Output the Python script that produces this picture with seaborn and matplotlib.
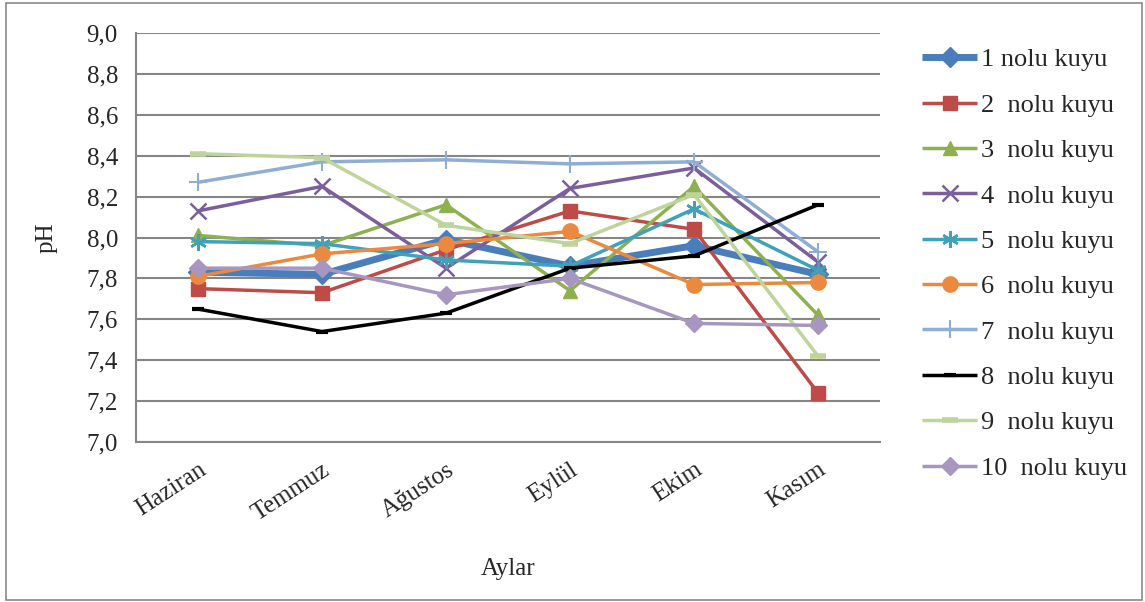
import numpy as np
import pandas as pd
import matplotlib
matplotlib.use("Agg")
import matplotlib.pyplot as plt
from matplotlib.patches import Rectangle
from matplotlib.ticker import FuncFormatter
import seaborn as sns

months = ["Haziran", "Temmuz", "Ağustos", "Eylül", "Ekim", "Kasım"]
well_labels = ["1 nolu kuyu", "2  nolu kuyu", "3  nolu kuyu", "4  nolu kuyu",
               "5  nolu kuyu", "6  nolu kuyu", "7  nolu kuyu", "8  nolu kuyu",
               "9  nolu kuyu", "10  nolu kuyu"]

ph_well1 = [7.83, 7.82, 7.99, 7.86, 7.96, 7.82]
ph_well2 = [7.75, 7.73, 7.94, 8.13, 8.04, 7.24]
ph_well3 = [8.01, 7.96, 8.16, 7.74, 8.25, 7.62]
ph_well4 = [8.13, 8.25, 7.85, 8.24, 8.34, 7.88]
ph_well5 = [7.98, 7.97, 7.89, 7.86, 8.14, 7.84]
ph_well6 = [7.81, 7.92, 7.97, 8.03, 7.77, 7.78]
ph_well7 = [8.27, 8.37, 8.38, 8.36, 8.37, 7.93]
ph_well8 = [7.65, 7.54, 7.63, 7.85, 7.91, 8.16]
ph_well9 = [8.41, 8.39, 8.06, 7.97, 8.21, 7.42]
ph_well10 = [7.85, 7.85, 7.72, 7.80, 7.58, 7.57]

y_ticks = [7.0, 7.2, 7.4, 7.6, 7.8, 8.0, 8.2, 8.4, 8.6, 8.8, 9.0]

series = [ph_well1, ph_well2, ph_well3, ph_well4, ph_well5,
          ph_well6, ph_well7, ph_well8, ph_well9, ph_well10]

# line colour, marker, line width, marker size, marker edge width
styles = [
    ("#4A7EBB", "D", 5.0, 10, 1.0),
    ("#BE4B48", "s", 2.5, 10, 1.0),
    ("#8EB04F", "^", 2.5, 10, 1.0),
    ("#7B5F9C", "x", 2.5, 11, 1.8),
    ("#3FA2BA", (6, 2, 0), 2.5, 12, 1.8),
    ("#EB8A3E", "o", 2.5, 11, 1.0),
    ("#8FAED6", "+", 2.5, 13, 1.5),
    ("#000000", "_", 2.5, 9, 3.0),
    ("#BED49A", "_", 2.5, 11, 4.0),
    ("#A796BF", "D", 2.5, 9, 1.0),
]

sns.set_style("white")
plt.rcParams["font.family"] = ["Liberation Serif", "DejaVu Serif"]

fig = plt.figure(figsize=(11.45, 6.02), dpi=100)
ax = fig.add_axes([136 / 1145, 1 - 442 / 602, 744 / 1145, 409 / 602])

x_pos = np.arange(len(months))
for values, label, (color, marker, lw, ms, mew) in zip(series, well_labels, styles):
    df = pd.DataFrame({"ay": x_pos, "ph": values})
    sns.lineplot(data=df, x="ay", y="ph", ax=ax, color=color, marker=marker,
                 linewidth=lw, markersize=ms, markeredgewidth=mew,
                 markeredgecolor=color, label=label, sort=False,
                 solid_joinstyle="miter", solid_capstyle="butt")

grid_color = "#868686"
ax.set_xlim(-0.5, len(months) - 0.5)
ax.set_ylim(7.0, 9.0)
ax.set_yticks(y_ticks)
ax.yaxis.set_major_formatter(FuncFormatter(lambda v, p: f"{v:.1f}".replace(".", ",")))
ax.set_xticks(x_pos)
ax.set_xticklabels(months, rotation=33, ha="right", rotation_mode="anchor")
ax.yaxis.grid(True, color=grid_color, linewidth=1.5)
ax.set_axisbelow(True)
for side in ("top", "right"):
    ax.spines[side].set_visible(False)
for side in ("left", "bottom"):
    ax.spines[side].set_color(grid_color)
    ax.spines[side].set_linewidth(1.5)
ax.tick_params(axis="y", direction="out", length=8, width=1.5, color=grid_color,
               labelsize=18, pad=5)
ax.tick_params(axis="x", length=0, labelsize=18, pad=12)

ax.set_xlabel("Aylar", fontsize=18, labelpad=24)
ax.set_ylabel("pH", fontsize=18, labelpad=21)

leg = ax.legend(loc="upper left", bbox_to_anchor=(922 / 1145, 1 - 48 / 602),
                bbox_transform=fig.transFigure, frameon=False, fontsize=19,
                handlelength=2.1, handletextpad=0.15, labelspacing=0.83,
                borderpad=0, borderaxespad=0)

fig.patches.append(Rectangle((6 / 1145, 2 / 602), 1136 / 1145, 597 / 602,
                             transform=fig.transFigure, fill=False,
                             edgecolor="#8a8a8a", linewidth=1.2))

fig.savefig("out.png", dpi=100)
